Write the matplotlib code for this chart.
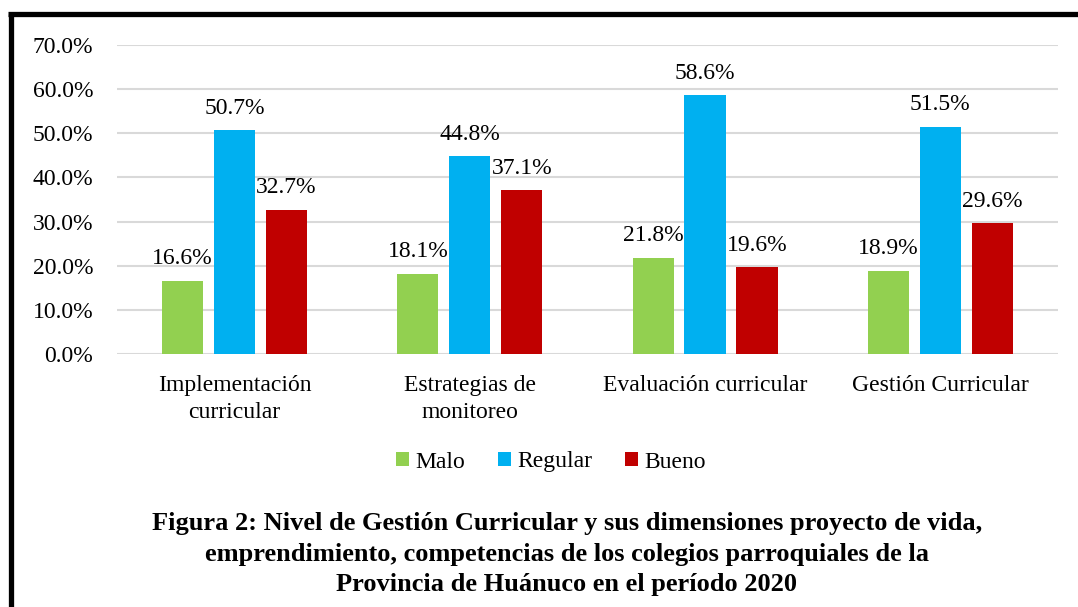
import numpy as np
import matplotlib.pyplot as plt
from matplotlib.lines import Line2D

plt.rcParams['font.family'] = ['Liberation Serif', 'DejaVu Serif']

categories = ['Implementación\ncurricular', 'Estrategias de\nmonitoreo',
              'Evaluación curricular', 'Gestión Curricular']
malo = [16.6, 18.1, 21.8, 18.9]
regular = [50.7, 44.8, 58.6, 51.5]
bueno = [32.7, 37.1, 19.6, 29.6]
series = ['Malo', 'Regular', 'Bueno']
colors = ['#92D050', '#00B0F0', '#C00000']
yticks = [0, 10, 20, 30, 40, 50, 60, 70]

fs = 17
fig = plt.figure(figsize=(10.78, 6.07), dpi=100)
ax = fig.add_axes([0.1085, 0.4168, 0.8729, 0.5091])

x = np.arange(len(categories))
w = 0.175
step = 0.221
for i, (vals, name, c) in enumerate(zip([malo, regular, bueno], series, colors)):
    pos = x + (i - 1) * step
    ax.bar(pos, vals, width=w, color=c, label=name, zorder=3)
    for p, v in zip(pos, vals):
        ax.annotate('%.1f%%' % v, (p, v), xytext=(0, 12), textcoords='offset points',
                    ha='center', va='baseline', fontsize=fs)

ax.set_xlim(-0.5, 3.5)
ax.set_ylim(0, 70)
ax.set_yticks(yticks)
ax.set_yticklabels(['%.1f%%' % t for t in yticks], fontsize=fs)
ax.set_xticks(x)
ax.set_xticklabels(categories, fontsize=fs, linespacing=1.37)
ax.tick_params(axis='y', length=0, pad=17)
ax.tick_params(axis='x', length=0, pad=15)
ax.grid(axis='y', color='#D9D9D9', linewidth=1.5, zorder=0)
for s in ax.spines.values():
    s.set_visible(False)

fig.legend(loc='center', bbox_to_anchor=(551 / 1078, 1 - 462 / 607), ncol=3, frameon=False,
           fontsize=fs, handlelength=0.55, handleheight=0.55, handletextpad=0.25,
           columnspacing=1.4)

fig.text(567 / 1078, 1 - 554 / 607,
         'Figura 2: Nivel de Gestión Curricular y sus dimensiones proyecto de vida,\n'
         'emprendimiento, competencias de los colegios parroquiales de la\n'
         'Provincia de Huánuco en el período 2020',
         ha='center', va='center', fontsize=19, fontweight='bold', linespacing=1.4)

# marco negro
top = 1 - 14 / 607
fig.add_artist(Line2D([10.5 / 1078, 10.5 / 1078], [0, top], color='black',
                      linewidth=3.8, transform=fig.transFigure, solid_capstyle='butt'))
fig.add_artist(Line2D([8 / 1078, 1], [top, top], color='black',
                      linewidth=3.8, transform=fig.transFigure, solid_capstyle='butt'))

fig.savefig('out.png', dpi=100)
